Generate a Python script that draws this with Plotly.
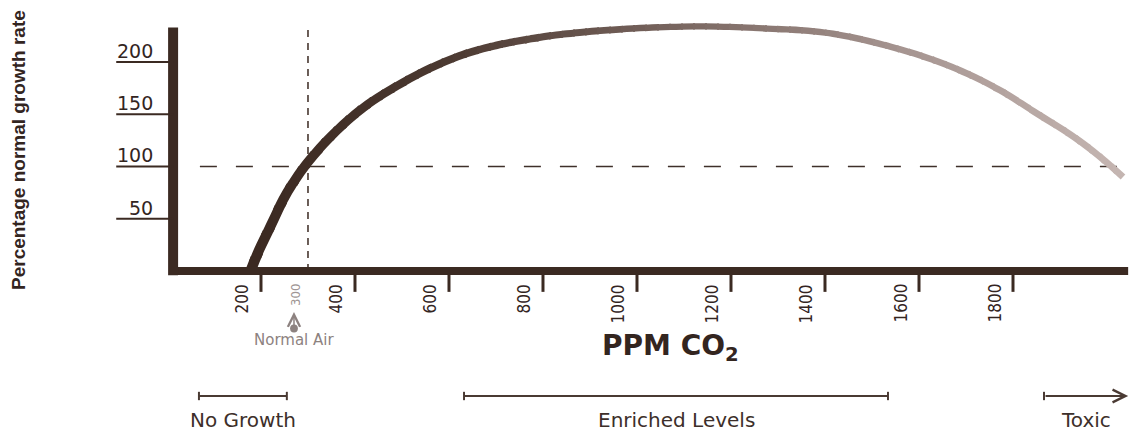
import plotly.graph_objects as go

# ---------------- data ----------------
ppm = [178, 196, 213, 230, 247, 268, 298, 347, 417, 489, 560, 630, 702, 772, 851, 991, 1134,
       1277, 1417, 1560, 1630, 1702, 1772, 1843, 1949, 2034]
growth = [0, 20, 36, 52, 68, 84, 103, 128, 156, 177, 194, 207, 216, 222, 227, 232, 234,
          232, 227, 212, 202, 189, 173, 153, 122, 90]

x_tick_values = [200, 400, 600, 800, 1000, 1200, 1400, 1600, 1800]
x_tick_labels = ["200", "400", "600", "800", "1000", "1200", "1400", "1600", "1800"]
y_tick_values = [50, 100, 150, 200]
y_tick_labels = ["50", "100", "150", "200"]

normal_air_ppm = 300
normal_air_tick_label = "300"
normal_air_text = "Normal Air"
reference_growth = 100

zone_names = ["No Growth", "Enriched Levels", "Toxic"]
zone_start = [68, 632, 1866]
zone_end = [255, 1534, 2045]

x_title = "PPM CO<sub>2</sub>"
y_title = "Percentage normal growth rate"

# ---------------- geometry / style ----------------
W, H = 1132, 432
X_RANGE = [-355.3, 2053.2]
Y_RANGE = [-154.1, 259.3]
X_AXIS_START, X_AXIS_END = 13, 2045
Y_AXIS_BOTTOM, Y_AXIS_TOP = -4, 233
Y_TICK_LEFT = -108
DARK = "#3b2a22"
TEXT = "#33251f"
GRAY = "#8d8280"
CONDENSED = "DejaVu Sans Condensed, Liberation Sans Narrow, sans-serif"


def p2x(px):
    return X_RANGE[0] + px / W * (X_RANGE[1] - X_RANGE[0])


def py2y(py):
    return Y_RANGE[1] - py / H * (Y_RANGE[1] - Y_RANGE[0])


def hex2rgb(h):
    h = h.lstrip("#")
    return [int(h[i:i + 2], 16) for i in (0, 2, 4)]


color_stops = [(238, "#3a281f"), (440, "#4a3830"), (700, "#7d6a64"), (900, "#a59490"), (1132, "#c6b7b3")]
width_stops = [(238, 10.5), (440, 7.8), (700, 6.2), (1132, 6.8)]


def interp(stops, px, is_color):
    for (a, va), (b, vb) in zip(stops[:-1], stops[1:]):
        if px <= b or (b == stops[-1][0]):
            t = min(max((px - a) / (b - a), 0), 1)
            if is_color:
                ca, cb = hex2rgb(va), hex2rgb(vb)
                c = [round(ca[i] + (cb[i] - ca[i]) * t) for i in range(3)]
                return "rgb(%d,%d,%d)" % tuple(c)
            return va + (vb - va) * t


fig = go.Figure()
layout_axes = {}

# the curve is drawn once per narrow vertical strip so its colour can fade along x
edges = list(range(238, W + 14, 12))
for i in range(len(edges) - 1):
    a = edges[i]
    b = min(edges[i + 1], W)
    if a >= W:
        break
    k = i + 2
    a2 = max(a - 1.0, 0)
    b2 = min(b + 1.0, W)
    layout_axes["xaxis%d" % k] = dict(domain=[a2 / W, b2 / W], range=[p2x(a2), p2x(b2)],
                                      visible=False, fixedrange=True, anchor="y")
    mid = (a + b) / 2
    fig.add_trace(go.Scatter(
        x=ppm, y=growth, mode="lines",
        line=dict(shape="spline", smoothing=1.3, color=interp(color_stops, mid, True),
                  width=interp(width_stops, mid, False)),
        xaxis="x%d" % k, yaxis="y", hoverinfo="skip", showlegend=False))

shapes = []
annotations = []

# dashed reference lines (below curve)
shapes.append(dict(type="line", xref="x", yref="y", x0=normal_air_ppm, x1=normal_air_ppm,
                   y0=0, y1=Y_AXIS_TOP + 2, layer="below",
                   line=dict(color=DARK, width=1.5, dash="7px,6px")))
shapes.append(dict(type="line", xref="x", yref="y", x0=70, x1=X_AXIS_END,
                   y0=reference_growth, y1=reference_growth, layer="below",
                   line=dict(color="#3f302a", width=1.6, dash="17px,19px")))

# axis lines
shapes.append(dict(type="line", xref="x", yref="y", x0=X_AXIS_START - 8, x1=X_AXIS_END,
                   y0=0, y1=0, layer="above", line=dict(color=DARK, width=8)))
shapes.append(dict(type="line", xref="x", yref="y", x0=X_AXIS_START, x1=X_AXIS_START,
                   y0=Y_AXIS_BOTTOM, y1=Y_AXIS_TOP, layer="above", line=dict(color=DARK, width=10)))

# y ticks
for v, lab in zip(y_tick_values, y_tick_labels):
    shapes.append(dict(type="line", xref="x", yref="y", x0=Y_TICK_LEFT, x1=X_AXIS_START,
                       y0=v, y1=v, layer="above", line=dict(color=DARK, width=2)))
    annotations.append(dict(x=p2x(155), y=v, xref="x", yref="y", text=lab, showarrow=False,
                            xanchor="right", yanchor="bottom", yshift=-2,
                            font=dict(family="DejaVu Sans", size=19, color=TEXT)))

# x ticks
for v, lab in zip(x_tick_values, x_tick_labels):
    shapes.append(dict(type="line", xref="x", yref="y", x0=v, x1=v, y0=-2, y1=-20,
                       layer="above", line=dict(color=DARK, width=3)))
    annotations.append(dict(x=v, y=py2y(282), xref="x", yref="y", text=lab, showarrow=False,
                            textangle=-90, xanchor="center", yanchor="top", xshift=-19,
                            font=dict(family=CONDENSED, size=17, color=TEXT)))

# normal air marker
annotations.append(dict(x=normal_air_ppm, y=py2y(282), xref="x", yref="y", text=normal_air_tick_label,
                        showarrow=False, textangle=-90, xanchor="center", yanchor="top", xshift=-13,
                        font=dict(family=CONDENSED, size=13, color="#a09695")))
annotations.append(dict(x=normal_air_ppm, y=py2y(312), xref="x", yref="y", text="", showarrow=True,
                        ax=0, ay=18, xshift=-14, arrowhead=5, arrowsize=1.6, arrowwidth=1.5,
                        arrowside="end+start", startarrowhead=6, startarrowsize=1.3,
                        arrowcolor=GRAY))
annotations.append(dict(x=normal_air_ppm, y=py2y(340), xref="x", yref="y", text=normal_air_text,
                        showarrow=False, xanchor="center", yanchor="middle", xshift=-14,
                        font=dict(family="DejaVu Sans", size=15, color=GRAY)))

# axis titles
annotations.append(dict(x=p2x(670), y=py2y(347), xref="x", yref="y", text="<b>" + x_title + "</b>",
                        showarrow=False, xanchor="center", yanchor="middle",
                        font=dict(family="DejaVu Sans", size=28, color=TEXT)))
annotations.append(dict(x=p2x(18), y=py2y(150), xref="x", yref="y", text="<b>" + y_title + "</b>",
                        showarrow=False, textangle=-90, xanchor="center", yanchor="middle",
                        font=dict(family="Liberation Sans, Arial, sans-serif", size=19, color=TEXT)))

# zones
bar_y = py2y(396)
cap = 4.0
label_y = py2y(420)
for name, s, e in zip(zone_names, zone_start, zone_end):
    shapes.append(dict(type="line", xref="x", yref="y", x0=s, x1=s, y0=bar_y - cap, y1=bar_y + cap,
                       line=dict(color="#4a3a33", width=2)))
    if name == "Toxic":
        annotations.append(dict(x=e, y=bar_y, ax=s, ay=bar_y, xref="x", yref="y", axref="x", ayref="y",
                                text="", showarrow=True, arrowhead=5, arrowsize=1.4, arrowwidth=1.8,
                                arrowcolor="#4a3a33"))
    else:
        shapes.append(dict(type="line", xref="x", yref="y", x0=s, x1=e, y0=bar_y, y1=bar_y,
                           line=dict(color="#4a3a33", width=2)))
        shapes.append(dict(type="line", xref="x", yref="y", x0=e, x1=e, y0=bar_y - cap, y1=bar_y + cap,
                           line=dict(color="#4a3a33", width=2)))
    annotations.append(dict(x=(s + e) / 2, y=label_y, xref="x", yref="y", text=name, showarrow=False,
                            xanchor="center", yanchor="middle",
                            font=dict(family="DejaVu Sans", size=20, color="#3d2f2a")))

fig.update_layout(
    width=W, height=H, autosize=False,
    margin=dict(l=0, r=0, t=0, b=0, pad=0),
    paper_bgcolor="white", plot_bgcolor="rgba(0,0,0,0)",
    xaxis=dict(domain=[0, 1], range=X_RANGE, visible=False, fixedrange=True),
    yaxis=dict(domain=[0, 1], range=Y_RANGE, visible=False, fixedrange=True),
    shapes=shapes, annotations=annotations, showlegend=False,
    **layout_axes,
)

fig.write_html("out.html", config={"displayModeBar": False},
               post_script="document.body.style.margin='0';document.body.style.padding='0';"
                           "document.body.style.overflow='hidden';")
